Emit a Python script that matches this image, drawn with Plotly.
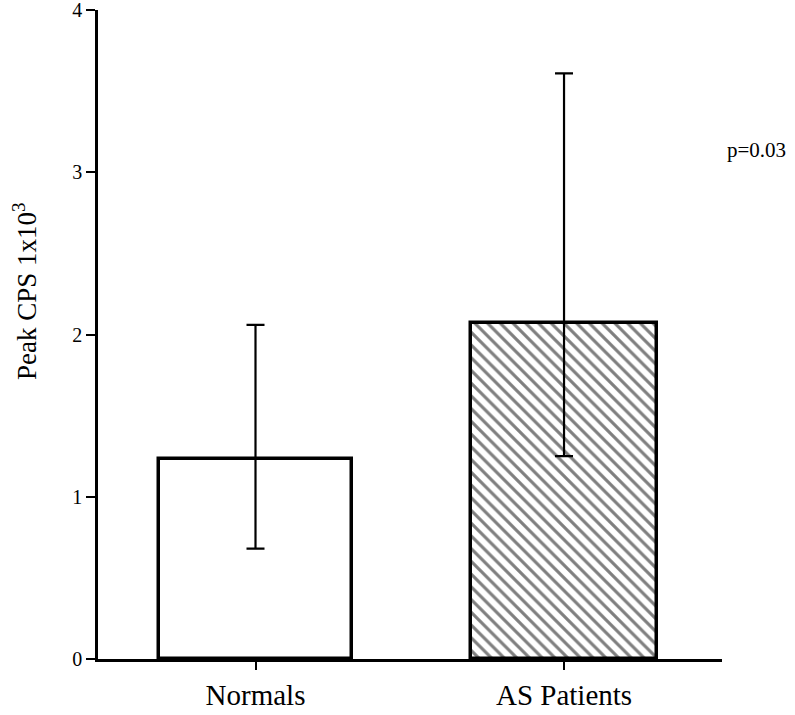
import plotly.graph_objects as go

# Peak counts per second (x10^3), mean with asymmetric spread
groups = ["Normals", "AS Patients"]
peak_mean = [1.23, 2.07]
peak_upper = [2.06, 3.61]
peak_lower = [0.68, 1.25]
y_ticks = [0, 1, 2, 3, 4]
p_value_text = "p=0.03"

x_pos = list(range(len(groups)))
err_plus = [u - m for u, m in zip(peak_upper, peak_mean)]
err_minus = [m - lo for m, lo in zip(peak_mean, peak_lower)]

SERIF = "Liberation Serif, Times New Roman, serif"

fig = go.Figure()
fig.add_trace(go.Bar(
    x=x_pos,
    y=peak_mean,
    width=[0.626, 0.603],
    marker=dict(
        color="white",
        line=dict(color="black", width=3.5),
        pattern=dict(
            shape=["", "\\"],
            fgcolor="black",
            bgcolor="white",
            size=9,
            solidity=0.35,
        ),
    ),
    error_y=dict(
        type="data",
        symmetric=False,
        array=err_plus,
        arrayminus=err_minus,
        color="black",
        thickness=2.2,
        width=9,
    ),
    showlegend=False,
))

fig.update_layout(
    width=795,
    height=715,
    margin=dict(l=98, r=73, t=10, b=56, autoexpand=False),
    paper_bgcolor="white",
    plot_bgcolor="white",
    bargap=0,
    font=dict(family=SERIF, color="black"),
    xaxis=dict(
        range=[-0.5105, 1.512],
        tickmode="array",
        tickvals=x_pos,
        ticktext=groups,
        ticks="outside",
        ticklen=8,
        tickwidth=2,
        tickcolor="black",
        showline=True,
        linecolor="black",
        linewidth=2.5,
        showgrid=False,
        zeroline=False,
        automargin=False,
        tickfont=dict(family=SERIF, size=29, color="black"),
    ),
    yaxis=dict(
        range=[0, 4.0005],
        tickmode="array",
        tickvals=y_ticks,
        ticks="outside",
        ticklen=9,
        tickwidth=2,
        tickcolor="black",
        showline=True,
        linecolor="black",
        linewidth=2.5,
        showgrid=False,
        zeroline=False,
        automargin=False,
        ticklabeloverflow="allow",
        tickfont=dict(family=SERIF, size=20, color="black"),
    ),
    annotations=[
        dict(
            text="Peak CPS 1x10<sup>3</sup>",
            textangle=-90,
            xref="paper", yref="paper",
            x=-0.117, y=0.567,
            xanchor="center", yanchor="middle",
            showarrow=False,
            font=dict(family=SERIF, size=27, color="black"),
        ),
        dict(
            text=p_value_text,
            xref="paper", yref="paper",
            x=1.005, y=0.784,
            xanchor="left", yanchor="middle",
            showarrow=False,
            font=dict(family=SERIF, size=21, color="black"),
        ),
    ],
)

fig.write_html("out.html")
